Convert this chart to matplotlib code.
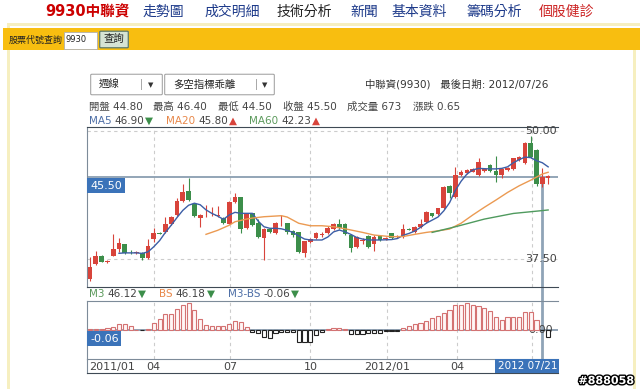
import numpy as np
import matplotlib.pyplot as plt
import matplotlib.patheffects as pe
from matplotlib.patches import Rectangle, FancyBboxPatch
from matplotlib.transforms import blended_transform_factory

plt.rcParams['font.family'] = ['DejaVu Sans', 'Noto Sans CJK TC']

W, H = 640, 389

# weekly candles, 2011/01 .. 2012/07/26
opens = [35.55, 36.98, 37.79, 37.2, 37.82, 38.45, 38.96, 38.2, 38.1, 38.12,
         37.63, 39.5, 40.05, 40.1, 40.89, 41.8, 43.2, 44.17, 42.87, 41.5,
         41.87, 41.85, 41.75, 41.47, 40.95, 43.04, 43.58, 40.5, 41.96, 40.99,
         39.52, 40.4, 40.0, 40.8, 40.99, 40.23, 40.1, 38.06, 39.2, 39.6,
         39.85, 40.0, 40.43, 40.92, 40.92, 39.84, 38.64, 39.3, 39.75, 38.93,
         39.75, 39.5, 40.0, 39.62, 39.68, 40.45, 40.1, 40.6, 41.08, 41.96,
         41.87, 42.45, 44.63, 43.58, 45.7, 45.87, 46.03, 45.7, 46.1, 46.68,
         46.09, 45.7, 46.2, 46.29, 47.17, 46.85, 48.8, 48.14, 44.8, 45.38]
closes = [36.75, 37.79, 37.24, 37.35, 38.45, 39.03, 38.06, 38.15, 38.15, 37.57,
          38.8, 40.0, 39.95, 40.92, 41.57, 43.2, 44.0, 43.26, 41.73, 41.8,
          41.9, 41.9, 41.8, 40.99, 43.1, 43.58, 40.43, 41.96, 40.8, 39.68,
          40.43, 40.1, 40.99, 40.85, 40.1, 39.84, 38.2, 39.26, 39.5, 40.0,
          39.9, 40.56, 40.92, 40.5, 39.91, 38.6, 39.68, 39.35, 38.7, 39.68,
          39.36, 39.55, 39.58, 39.7, 40.43, 40.35, 40.65, 40.95, 42.12, 41.73,
          42.45, 44.56, 43.98, 45.7, 45.97, 46.19, 46.29, 47.0, 46.3, 46.09,
          45.7, 46.29, 46.4, 47.33, 47.5, 48.8, 47.5, 44.85, 45.5, 45.64]
highs = [37.73, 38.28, 37.9, 37.45, 39.9, 39.6, 39.0, 38.4, 38.3, 38.2,
         39.45, 40.5, 40.1, 41.6, 41.7, 43.5, 44.8, 45.38, 42.9, 41.9,
         42.77, 42.6, 42.7, 41.6, 43.2, 43.98, 43.6, 42.0, 42.0, 41.37,
         40.5, 40.5, 41.1, 41.8, 41.05, 40.3, 40.15, 39.3, 39.6, 40.1,
         40.1, 40.7, 41.0, 41.37, 41.0, 39.9, 39.75, 39.6, 39.8, 39.8,
         39.8, 39.7, 40.05, 39.8, 40.89, 40.5, 40.7, 41.4, 42.2, 42.0,
         42.5, 44.6, 44.7, 46.51, 46.2, 46.3, 46.4, 47.33, 46.4, 46.8,
         47.59, 46.4, 46.5, 47.4, 47.6, 48.9, 49.54, 48.2, 46.4, 45.7]
lows = [35.4, 36.9, 37.2, 37.1, 37.75, 38.2, 37.95, 38.0, 38.0, 37.45,
        37.55, 39.2, 39.9, 40.0, 40.8, 41.7, 43.1, 43.2, 41.6, 40.65,
        41.63, 41.7, 41.6, 40.9, 40.9, 43.0, 40.0, 40.4, 40.7, 39.6,
        37.4, 40.0, 39.9, 40.7, 39.9, 39.7, 38.1, 37.73, 39.1, 39.5,
        39.7, 39.9, 40.3, 40.4, 39.8, 38.15, 38.55, 39.0, 38.6, 38.28,
        39.3, 39.4, 39.5, 39.55, 39.6, 40.3, 40.05, 40.55, 41.0, 41.6,
        41.8, 42.4, 43.49, 43.5, 45.6, 45.8, 45.95, 45.6, 46.0, 46.0,
        45.05, 45.38, 46.1, 46.2, 47.1, 46.8, 47.4, 44.6, 44.5, 44.79]

ma5 = [38.06, 38.1, 38.1, 38.1, 38.05, 38.2, 38.7, 39.3, 40.1, 40.8,
       41.55, 42.25, 42.75, 42.95, 42.8, 42.3, 41.96, 41.7, 41.37, 41.8,
       42.06, 41.96, 41.96, 41.96, 41.2, 40.65, 40.5, 40.5, 40.45, 40.3,
       40.1, 39.75, 39.45, 39.36, 39.36, 39.36, 39.65, 40.15, 40.33, 40.15,
       39.9, 39.6, 39.45, 39.36, 39.36, 39.36, 39.38, 39.4, 39.5, 39.82,
       40.0, 40.23, 40.6, 41.0, 41.3, 41.6, 42.2, 43.0, 44.2, 45.1,
       45.8, 46.2, 46.35, 46.32, 46.3, 46.3, 46.35, 46.5, 46.9, 47.2,
       47.45, 47.4, 47.1, 46.9, 46.5]
ma5_start = 5
ma20_idx = [20, 22, 24, 25, 27, 28, 30, 33, 34, 36, 38, 40, 42, 44, 47, 49,
            52, 54, 56, 58, 60, 62, 64, 66, 68, 70, 72, 74, 76, 78, 79]
ma20_val = [39.91, 40.3, 40.8, 41.14, 41.4, 41.5, 41.63, 41.73, 41.6, 40.99,
            40.75, 40.75, 40.65, 40.45, 40.1, 39.84, 39.68, 39.7, 39.91, 40.1,
            40.25, 40.43, 41.0, 41.8, 42.55, 43.26, 44.0, 44.65, 45.2, 45.8, 45.97]
ma60_idx = [59, 63, 68, 73, 78, 79]
ma60_val = [40.1, 40.65, 41.4, 41.95, 42.23, 42.29]

# M3-BS histogram
m3bs = [0.006, 0.006, 0.011, 0.02, 0.028, 0.049, 0.049, 0.034, 0.003, -0.002,
        0.011, 0.058, 0.092, 0.135, 0.135, 0.178, 0.215, 0.23, 0.172, 0.092,
        0.043, 0.034, 0.034, 0.034, 0.052, 0.077, 0.066, 0.028, -0.015, -0.023,
        -0.058, -0.071, -0.028, -0.015, -0.015, -0.015, -0.1, -0.1, -0.1, -0.043,
        -0.015, 0.009, 0.02, 0.02, 0.009, -0.034, -0.037, -0.037, -0.028, -0.023,
        -0.026, -0.011, -0.009, -0.006, 0.015, 0.034, 0.052, 0.063, 0.077, 0.1,
        0.12, 0.144, 0.172, 0.215, 0.215, 0.23, 0.215, 0.206, 0.187, 0.166,
        0.109, 0.086, 0.114, 0.114, 0.114, 0.152, 0.152, 0.086, -0.004, -0.06]

tick_pos = [11, 24.2, 38, 51.2, 63.3, 76.2]
tick_lab = ['04', '07', '10', '2012/01', '04', '']
cursor = 78
last_close = 45.50

XL = (-0.52, 80.7)
RED, GREEN = '#d8443b', '#3c8e4a'
FRAME = '#7d8b99'
BLUE_BOX = '#3b73b9'
TXT = '#444444'

fig = plt.figure(figsize=(W / 100, H / 100), dpi=100)
renderer = fig.canvas.get_renderer()


def box(x0, y0, x1, y1):
    return [x0 / W, 1 - y1 / H, (x1 - x0) / W, (y1 - y0) / H]


def ftext(x, y, s, **kw):
    kw.setdefault('va', 'center')
    return fig.text(x / W, 1 - y / H, s, **kw)


def chain(x, y, parts, fs=7.5, gaps=(3, 1)):
    # label, value and arrow written one after another
    for k, (s, c) in enumerate(parts):
        t = ftext(x, y, s, color=c, fontsize=fs)
        x = t.get_window_extent(renderer).x1 + (gaps[k] if k < len(gaps) else 0)


def frect(x0, y0, x1, y1, **kw):
    fig.patches.append(Rectangle((x0 / W, 1 - y1 / H), (x1 - x0) / W, (y1 - y0) / H,
                                 transform=fig.transFigure, **kw))


# page decoration
frect(8, 23, 640, 26, color='#f6efc0', lw=0)
frect(7, 23, 10, 389, color='#f6efc0', lw=0)
frect(633, 50, 636, 389, color='#f6efc0', lw=0)
frect(3, 28, 640, 50, color='#f8be10', lw=0)

ftext(45, 12, '9930中聯資', color='#cc0000', fontsize=10.5, fontweight='bold')
nav = [('走勢圖', 143, '#1d3a8a'), ('成交明細', 204, '#1d3a8a'), ('技術分析', 277, '#222222'),
       ('新聞', 350, '#1d3a8a'), ('基本資料', 392, '#1d3a8a'), ('籌碼分析', 466, '#1d3a8a'),
       ('個股健診', 539, '#cc2222')]
for s, x, c in nav:
    ftext(x, 12, s, color=c, fontsize=10)

ftext(9, 40, '股票代號查詢', fontsize=6.5, color='#222222')
frect(64, 32, 97, 49, facecolor='white', edgecolor='#b0b0b0', lw=0.6)
ftext(66, 39, '9930', fontsize=6, color='#222222')
fig.patches.append(FancyBboxPatch((101 / W, 1 - 47 / H), 26 / W, 15 / H,
                                  boxstyle='round,pad=0.002', transform=fig.transFigure,
                                  facecolor='#d6e4d4', edgecolor='#5d7b6b', lw=0.9))
ftext(114, 39, '查詢', fontsize=7.5, ha='center', color='#222222')

# selectors
for x0, x1, sep, label in [(92, 161, 141, '週線'), (166, 273, 256, '多空指標乖離')]:
    fig.patches.append(FancyBboxPatch((x0 / W, 1 - 94 / H), (x1 - x0) / W, 19 / H,
                                      boxstyle='round,pad=0.002', transform=fig.transFigure,
                                      facecolor='white', edgecolor='#9a9a9a', lw=0.7))
    frect(sep, 79, sep + 0.7, 90, color='#aaaaaa', lw=0)
    ftext(x0 + 7, 85, label, fontsize=7.5, color='#222222')
    ftext((sep + x1) / 2, 85, '▼', fontsize=5, ha='center', color='#333333')

ftext(365, 84, '中聯資(9930)   最後日期: 2012/07/26', fontsize=7.5, color='#333333')

info = [('開盤 44.80', 89), ('最高 46.40', 153), ('最低 44.50', 218),
        ('收盤 45.50', 283), ('成交量 673', 347), ('漲跌 0.65', 413)]
for s, x in info:
    ftext(x, 107, s, fontsize=7.5, color=TXT)

chain(89, 121, [('MA5', '#4d6ea6'), ('46.90', TXT), ('▼', GREEN)])
chain(166, 121, [('MA20', '#e8884a'), ('45.80', TXT), ('▲', RED)])
chain(249, 121, [('MA60', '#5c9a5c'), ('42.23', TXT), ('▲', RED)])

chain(89, 294, [('M3', '#5c9a5c'), ('46.12', TXT), ('▼', GREEN)])
chain(159, 294, [('BS', '#e8884a'), ('46.18', TXT), ('▼', GREEN)])
chain(228, 294, [('M3-BS', '#4d6ea6'), ('-0.06', TXT), ('▼', GREEN)])

# cursor line (behind)
axc = fig.add_axes(box(87, 177, 558, 360))
axc.set_xlim(*XL)
axc.axis('off')
axc.axvline(cursor, color='#8fa4b7', lw=2)

# price panel
ax = fig.add_axes(box(87, 127, 558, 287))
ax.set_facecolor('none')
ax.set_xlim(*XL)
ax.set_ylim(34.77, 50.39)
ax.spines['right'].set_visible(False)
ax.spines['top'].set_color('#3f4a55')
ax.spines['left'].set_color(FRAME)
ax.spines['bottom'].set_color('#3f4a55')
ax.set_xticks([])
ax.set_yticks([])
for y in [50, 37.5]:
    ax.axhline(y, color='#cccccc', lw=0.8, ls=(0, (3, 3)), zorder=0)
for x in tick_pos:
    ax.axvline(x, color='#cccccc', lw=0.8, ls=(0, (3, 3)), zorder=0)
ax.axhline(last_close, color='#8096aa', lw=1.2, zorder=1)

idx = np.arange(len(opens))
o = np.array(opens)
c = np.array(closes)
cols = [RED if cc >= oo else GREEN for oo, cc in zip(o, c)]
ax.vlines(idx, lows, highs, colors=cols, lw=0.8, zorder=3)
bottoms = np.minimum(o, c)
heights = np.maximum(np.abs(c - o), 0.07)
ax.bar(idx, heights, bottom=bottoms, width=0.8, color=cols, lw=0, zorder=4)

ax.plot(np.arange(ma5_start, ma5_start + len(ma5)), ma5, color='#3c5ea6', lw=1, zorder=5)
ax.plot(ma20_idx, ma20_val, color='#eb9a52', lw=1, zorder=5)
ax.plot(ma60_idx, ma60_val, color='#4f9a5e', lw=1, zorder=5)

tr = blended_transform_factory(ax.transAxes, ax.transData)
ax.text(0.997, 50, '50.00', transform=tr, ha='right', va='center', fontsize=8, color=TXT)
ax.text(0.997, 37.5, '37.50', transform=tr, ha='right', va='center', fontsize=8, color=TXT)
ax.annotate('45.50', xy=(0, last_close), xycoords=tr, xytext=(3, -8.5), textcoords='offset pixels',
            ha='left', va='center', fontsize=8, color='white',
            bbox=dict(boxstyle='square,pad=0.25', fc=BLUE_BOX, ec='none'), zorder=6)

# M3-BS panel
axb = fig.add_axes(box(87, 301, 558, 359))
axb.set_facecolor('none')
axb.set_xlim(*XL)
axb.set_ylim(-0.25, 0.25)
axb.spines['right'].set_visible(False)
for side in ['top', 'left', 'bottom']:
    axb.spines[side].set_color(FRAME)
axb.set_xticks([])
axb.set_yticks([])
for x in tick_pos:
    axb.axvline(x, color='#cccccc', lw=0.8, ls=(0, (3, 3)), zorder=0)
axb.axhline(0, color='#7f93a8', lw=1.2, zorder=1)
h = np.array(m3bs)
pos = h >= 0
axb.bar(idx[pos], h[pos], width=0.72, facecolor='#fff6f6', edgecolor='#d47272', lw=0.8, zorder=3)
axb.bar(idx[~pos], h[~pos], width=0.72, facecolor='white', edgecolor='#222222', lw=0.8, zorder=3)
trb = blended_transform_factory(axb.transAxes, axb.transData)
axb.text(0.99, 0, '0.00', transform=trb, ha='right', va='center', fontsize=8, color=TXT, zorder=2)
axb.annotate('-0.06', xy=(0, 0), xycoords=trb, xytext=(3, -8.5), textcoords='offset pixels',
             ha='left', va='center', fontsize=8, color='white',
             bbox=dict(boxstyle='square,pad=0.25', fc=BLUE_BOX, ec='none'), zorder=6)

# date strip
axd = fig.add_axes(box(87, 359, 558, 373))
axd.set_facecolor('none')
axd.set_xlim(*XL)
axd.set_ylim(0, 1)
axd.spines['right'].set_visible(False)
axd.spines['top'].set_visible(False)
axd.spines['left'].set_color(FRAME)
axd.spines['bottom'].set_color('#3f4a55')
axd.set_xticks([])
axd.set_yticks([])
axd.text(XL[0] + 0.3, 0.45, '2011/01', ha='left', va='center', fontsize=8, color=TXT)
for x, s in zip(tick_pos, tick_lab):
    axd.text(x, 0.45, s, ha='center', va='center', fontsize=8, color=TXT)
axd.text(0.998, 0.5, '2012 07/21', transform=axd.transAxes, ha='right', va='center',
         fontsize=7.5, color='white', bbox=dict(boxstyle='square,pad=0.2', fc=BLUE_BOX, ec='none'))

ftext(634, 381, '#888058', ha='right', fontsize=8, fontweight='bold', color='white',
      path_effects=[pe.withStroke(linewidth=2, foreground='black')])

fig.savefig('out.png', dpi=100)
